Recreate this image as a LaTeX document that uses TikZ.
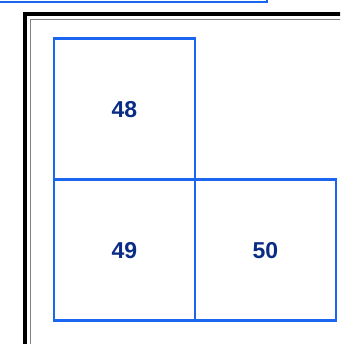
\documentclass[tikz,border=0pt]{standalone}
\usepackage{fontspec}
\setmainfont{Liberation Sans}
\definecolor{boxblue}{HTML}{1A66F0}
\definecolor{txtblue}{HTML}{0B2C85}
\begin{document}
\begin{tikzpicture}[x=1pt,y=1pt,
  cell/.style={draw=boxblue,line width=2.8pt,minimum width=141pt,minimum height=141pt,inner sep=0pt,anchor=south west,
    font=\fontsize{23}{25}\selectfont\bfseries,text=txtblue}]
\useasboundingbox (0,0) rectangle (340,344);
\begin{scope}
\clip (0,0) rectangle (340,344);
\draw[boxblue,line width=2.8pt] (-10,342) rectangle (267,380);
\draw[black,line width=4.5pt] (25,330) rectangle (420,-60);
\draw[gray,line width=1.5pt] (30.5,324.5) rectangle (420,-60);
\end{scope}
\node[cell] (n48) at (52.5,163) {48};
\node[cell] (n49) at (52.5,22) {49};
\node[cell] (n50) at (193.5,22) {50};
\end{tikzpicture}
\end{document}
